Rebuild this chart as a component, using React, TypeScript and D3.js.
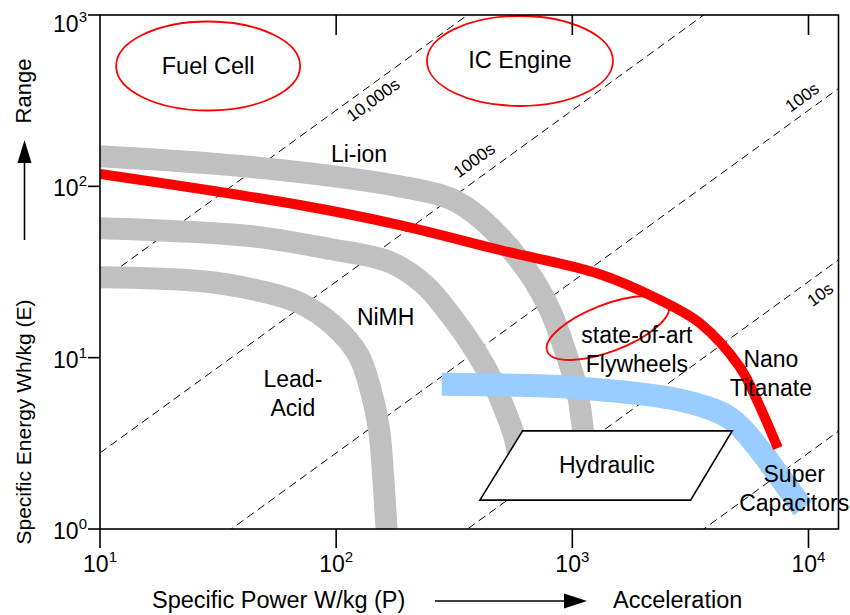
import React from 'react';
import * as d3 from 'd3';

// Technology bands: specific power (W/kg) against specific energy (Wh/kg)
const liIonPower = [10, 43, 186, 303, 414, 642, 804, 930, 1046, 1109, 1153];
const liIonEnergy = [150, 130, 100, 85, 64, 32.5, 19, 11.1, 6.5, 3.8, 2.2];

const nimhPower = [10, 43, 94, 169, 238, 309, 387, 457, 518, 566, 612];
const nimhEnergy = [57, 51.3, 43.1, 36.1, 26.5, 17.3, 11.1, 7.4, 4.94, 3.53, 2.06];

const leadAcidPower = [10, 26.5, 47.6, 70.3, 97, 124, 140, 152, 158, 164];
const leadAcidEnergy = [29.5, 28, 24.5, 20.8, 15.5, 10.4, 6.5, 3.8, 2.06, 0.92];

const superCapPower = [280, 600, 1077, 2855, 4648, 6230, 7565, 9470];
const superCapEnergy = [7.0, 6.9, 6.65, 5.65, 4.44, 2.89, 2.01, 1.32];

const nanoTitanatePower = [10, 70, 186, 494, 1309, 2350, 3470, 5120, 6050, 7420];
const nanoTitanateEnergy = [118, 77.8, 59.4, 42.5, 30.7, 21.7, 15.9, 8.8, 5.65, 2.97];

// Constant discharge-time lines: E = P * t / 3600
const dischargeTimes = [10000, 1000, 100, 10, 1];
const dischargeLabels = ['10,000s', '1000s', '100s', '10s', ''];

const powerTicks = [10, 100, 1000, 10000];
const energyTicks = [1, 10, 100, 1000];

// Annotation layout (data coordinates where the item sits on the plot)
const dischargeLabelAt = [133, 424, 10200, 10150, 0];
const dischargeLabelOffset = [13, -17.5, -14.5, 17, 0];

const regionEllipses = [
  { name: 'Fuel Cell', p: 28.7, e: 504, rx: 92, ry: 44.5, rot: 0, textE: 452 },
  { name: 'IC Engine', p: 600, e: 539, rx: 93, ry: 45, rot: 0, textE: 490 },
];
const flywheelRegion = { p: 1415, e: 14.9, rx: 65, ry: 23.5, rot: -21 };
const hydraulicCorners: [number, number][] = [
  [616, 3.74],
  [4753, 3.74],
  [3169, 1.475],
  [406, 1.475],
];

const textLabels = [
  { lines: ['Li-ion'], p: 125, e: 139 },
  { lines: ['NiMH'], p: 162, e: 15.5 },
  { lines: ['Lead-', 'Acid'], p: 65.6, e: 6.74 },
  { lines: ['Nano', 'Titanate'], p: 6930, e: 8.81 },
  { lines: ['Super', 'Capacitors'], p: 8700, e: 1.88 },
  { lines: ['state-of-art', 'Flywheels'], p: 1877, e: 12.2 },
  { lines: ['Hydraulic'], p: 1401, e: 2.12 },
];

const FONT = '"Liberation Sans", Arial, Helvetica, sans-serif';
const W = 850;
const H = 615;

const zip = (a: number[], b: number[]) => a.map((v, i) => [v, b[i]] as [number, number]);

export default function App() {
  const x = d3.scaleLog().domain([10, 13400]).range([100, 838.5]);
  const y = d3.scaleLog().domain([1, 1000]).range([529, 15]);
  const [x0, x1] = x.range();
  const [y0, y1] = y.range();

  const line = d3
    .line<[number, number]>()
    .x((d) => x(d[0]))
    .y((d) => y(d[1]))
    .curve(d3.curveCatmullRom.alpha(0.5));

  const straight = d3
    .line<[number, number]>()
    .x((d) => x(d[0]))
    .y((d) => y(d[1]));

  const bands = [
    { d: zip(leadAcidPower, leadAcidEnergy), color: '#c0c0c0', w: 22 },
    { d: zip(nimhPower, nimhEnergy), color: '#c0c0c0', w: 22 },
    { d: zip(liIonPower, liIonEnergy), color: '#c0c0c0', w: 22 },
    { d: zip(superCapPower, superCapEnergy), color: '#99ccff', w: 23 },
    { d: zip(nanoTitanatePower, nanoTitanateEnergy), color: '#ff0000', w: 10 },
  ];

  const [pMin, pMax] = x.domain();

  const hydraulicPath =
    'M' + hydraulicCorners.map(([p, e]) => `${x(p)},${y(e)}`).join('L') + 'Z';

  const sup = (v: number) => String(Math.round(Math.log10(v)));

  return (
    <svg
      width={W}
      height={H}
      style={{ position: 'absolute', left: 0, top: 0, background: '#fff' }}
      fontFamily={FONT}
    >
      <defs>
        <clipPath id="plot-area">
          <rect x={x0} y={y1} width={x1 - x0} height={y0 - y1} />
        </clipPath>
      </defs>
      <rect width={W} height={H} fill="#fff" />

      <g clipPath="url(#plot-area)">
        {/* discharge-time guide lines */}
        {dischargeTimes.map((t) => (
          <path
            key={t}
            d={straight([
              [pMin, (pMin * t) / 3600],
              [pMax, (pMax * t) / 3600],
            ])!}
            fill="none"
            stroke="#000"
            strokeWidth={1}
            strokeDasharray="8,5"
          />
        ))}

        {/* technology bands */}
        {bands.map((b, i) => (
          <path
            key={i}
            d={line(b.d)!}
            fill="none"
            stroke={b.color}
            strokeWidth={b.w}
            strokeLinecap="butt"
            strokeLinejoin="round"
          />
        ))}
      </g>

      {/* discharge-time labels */}
      {dischargeTimes.map((t, i) => {
        if (!dischargeLabels[i]) return null;
        const a = Math.atan2(
          y((pMax * t) / 3600) - y((pMin * t) / 3600),
          x(pMax) - x(pMin)
        );
        const px = x(dischargeLabelAt[i]);
        const py = y((dischargeLabelAt[i] * t) / 3600);
        const off = dischargeLabelOffset[i];
        const cx = px - Math.sin(a) * off;
        const cy = py + Math.cos(a) * off;
        return (
          <text
            key={t}
            transform={`translate(${cx},${cy}) rotate(${(a * 180) / Math.PI})`}
            textAnchor="middle"
            dy="0.35em"
            fontSize={17}
          >
            {dischargeLabels[i]}
          </text>
        );
      })}

      {/* regions */}
      {regionEllipses.map((r) => (
        <g key={r.name}>
          <ellipse
            cx={x(r.p)}
            cy={y(r.e)}
            rx={r.rx}
            ry={r.ry}
            fill="none"
            stroke="#ff0000"
            strokeWidth={1.8}
          />
          <text x={x(r.p)} y={y(r.textE)} textAnchor="middle" fontSize={23.5}>
            {r.name}
          </text>
        </g>
      ))}
      <ellipse
        transform={`translate(${x(flywheelRegion.p)},${y(flywheelRegion.e)}) rotate(${flywheelRegion.rot})`}
        rx={flywheelRegion.rx}
        ry={flywheelRegion.ry}
        fill="none"
        stroke="#ff0000"
        strokeWidth={1.8}
      />
      <path d={hydraulicPath} fill="#fff" stroke="#000" strokeWidth={1.6} />

      {/* technology labels */}
      {textLabels.map((l, i) => (
        <text key={i} x={x(l.p)} y={y(l.e)} textAnchor="middle" fontSize={23}>
          {l.lines.map((s, j) => (
            <tspan key={j} x={x(l.p)} dy={j === 0 ? 0 : 29}>
              {s}
            </tspan>
          ))}
        </text>
      ))}

      {/* frame */}
      <rect
        x={x0}
        y={y1}
        width={x1 - x0}
        height={y0 - y1}
        fill="none"
        stroke="#000"
        strokeWidth={1.6}
      />

      {/* x axis ticks and labels */}
      {powerTicks.map((v) => (
        <g key={v}>
          <line x1={x(v)} x2={x(v)} y1={y0} y2={y0 + 19} stroke="#000" strokeWidth={1.6} />
          {v > pMin && (
            <line x1={x(v)} x2={x(v)} y1={y1} y2={y1 + 20} stroke="#000" strokeWidth={1.6} />
          )}
          <text x={x(v)} y={y0 + 43} textAnchor="middle" fontSize={23}>
            <tspan>10</tspan>
            <tspan dy={-10} fontSize={15}>
              {sup(v)}
            </tspan>
          </text>
        </g>
      ))}

      {/* y axis ticks and labels */}
      {energyTicks.map((v) => (
        <g key={v}>
          <line x1={x0 - 12} x2={x0} y1={y(v)} y2={y(v)} stroke="#000" strokeWidth={1.6} />
          <text x={x0 - 13} y={Math.max(y(v) + 10, 32)} textAnchor="end" fontSize={23}>
            <tspan>10</tspan>
            <tspan dy={-10} fontSize={15}>
              {sup(v)}
            </tspan>
          </text>
        </g>
      ))}

      {/* axis titles */}
      <text x={152} y={608} fontSize={23.5}>
        Specific Power W/kg (P)
      </text>
      <line x1={435} x2={566} y1={601} y2={601} stroke="#000" strokeWidth={1.6} />
      <path d="M564,593.5L587,601L564,608.5Z" fill="#000" />
      <text x={613} y={608} fontSize={23.5}>
        Acceleration
      </text>

      <text transform="translate(31,422) rotate(-90)" textAnchor="middle" fontSize={21}>
        Specific Energy Wh/kg (E)
      </text>
      <line x1={24.5} x2={24.5} y1={240} y2={160} stroke="#000" strokeWidth={1.6} />
      <path d="M17.5,163L24.5,140L31.5,163Z" fill="#000" />
      <text transform="translate(31,91) rotate(-90)" textAnchor="middle" fontSize={22}>
        Range
      </text>
    </svg>
  );
}
